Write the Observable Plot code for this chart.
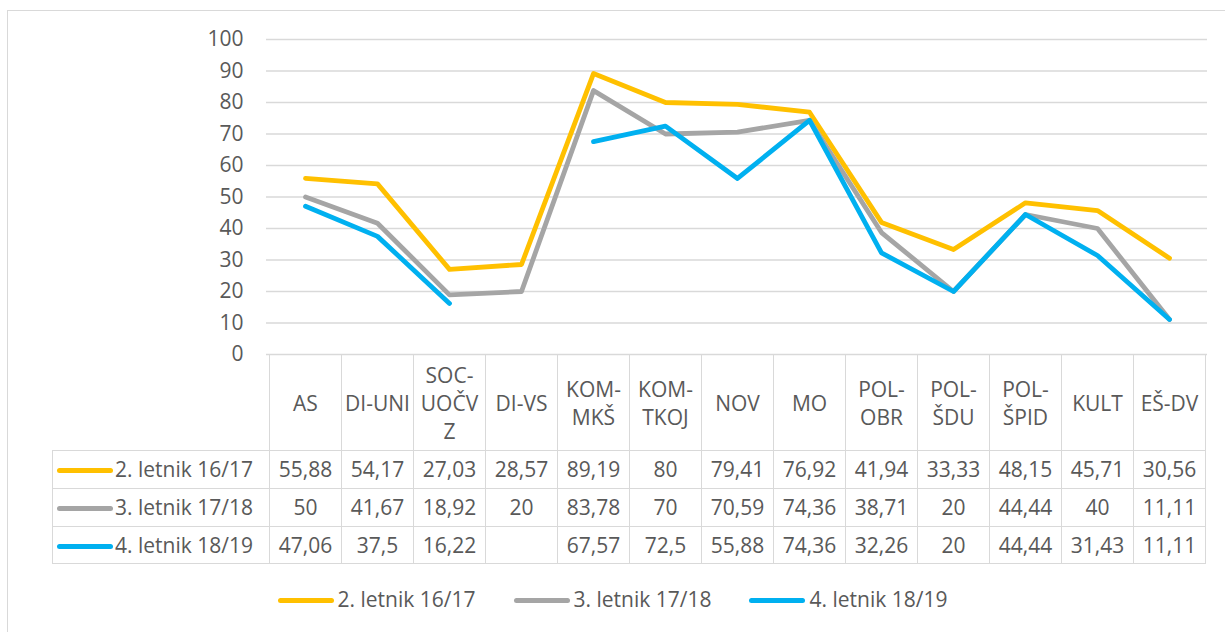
<!DOCTYPE html>
<html>
<head>
<meta charset="utf-8">
<script src="https://cdn.jsdelivr.net/npm/d3@7"></script>
<script src="https://cdn.jsdelivr.net/npm/@observablehq/plot@0.6"></script>
<style>
  body { margin: 0; background: #fff; font-family: "Open Sans", sans-serif; color: #595959; }
  #wrap { position: relative; width: 1225px; height: 632px; overflow: hidden; background: #fff; }
  #frame { position: absolute; left: 7px; top: 10px; width: 1240px; height: 700px; border: 1px solid #d9d9d9; box-sizing: border-box; }
  #chart { position: absolute; left: 0; top: 0; }
  #tbl { position: absolute; border-collapse: collapse; table-layout: fixed; font-size: 21px; color: #595959; }
  #tbl td { border: 1.5px solid #d9d9d9; text-align: center; vertical-align: middle; padding: 0; white-space: pre-line; line-height: 28px; }
  #tbl td.blank { border-top: none; border-left: none; }
  #tbl td.lab { text-align: left; white-space: nowrap; }
  .sw { display: inline-block; width: 56px; height: 5px; border-radius: 3px; vertical-align: middle; margin: 0 2px 0 4px; position: relative; top: -1px; }
  #legend { position: absolute; top: 585px; left: 0; width: 1225px; text-align: center; font-size: 21px; color: #595959; white-space: nowrap; }
  #legend span.item { display: inline-block; margin: 0 19px; }
  #legend .sw { margin: 0 4px 0 0; }
</style>
</head>
<body>
<div id="wrap">
  <div id="frame"></div>
  <div id="chart"></div>
  <table id="tbl"></table>
  <div id="legend"></div>
</div>
<script>
const categories = ["AS", "DI-UNI", "SOC-UOČVZ", "DI-VS", "KOM-MKŠ", "KOM-TKOJ", "NOV", "MO", "POL-OBR", "POL-ŠDU", "POL-ŠPID", "KULT", "EŠ-DV"];
const headerLabels = ["AS", "DI-UNI", "SOC-\nUOČV\nZ", "DI-VS", "KOM-\nMKŠ", "KOM-\nTKOJ", "NOV", "MO", "POL-\nOBR", "POL-\nŠDU", "POL-\nŠPID", "KULT", "EŠ-DV"];
const seriesNames = ["2. letnik 16/17", "3. letnik 17/18", "4. letnik 18/19"];
const seriesColors = ["#FFC000", "#A5A5A5", "#00B0F0"];
const s1 = [55.88, 54.17, 27.03, 28.57, 89.19, 80, 79.41, 76.92, 41.94, 33.33, 48.15, 45.71, 30.56];
const s2 = [50, 41.67, 18.92, 20, 83.78, 70, 70.59, 74.36, 38.71, 20, 44.44, 40, 11.11];
const s3 = [47.06, 37.5, 16.22, null, 67.57, 72.5, 55.88, 74.36, 32.26, 20, 44.44, 31.43, 11.11];
const yTicks = [0, 10, 20, 30, 40, 50, 60, 70, 80, 90, 100];

const seriesValues = [s1, s2, s3];
const rows = [];
seriesValues.forEach((vals, si) => {
  vals.forEach((v, i) => rows.push({series: seriesNames[si], cat: categories[i], value: v}));
});

const plot = Plot.plot({
  width: 1225,
  height: 360,
  marginLeft: 266,
  marginRight: 18,
  marginTop: 39,
  marginBottom: 6,
  style: {fontFamily: "Open Sans, sans-serif", fontSize: "21px", color: "#595959", background: "transparent", overflow: "visible"},
  x: {type: "band", domain: categories, padding: 0, axis: null},
  y: {domain: [0, 100], ticks: yTicks, tickSize: 0, tickPadding: 23, label: null, tickFormat: d => String(d)},
  color: {domain: seriesNames, range: seriesColors},
  marks: [
    Plot.ruleY(yTicks, {stroke: "#d9d9d9", strokeWidth: 1.5}),
    ...seriesNames.map(name => Plot.line(rows.filter(r => r.series === name), {
      x: "cat", y: "value", stroke: "series",
      strokeWidth: 4.8, strokeLinecap: "round", strokeLinejoin: "round"
    }))
  ]
});
document.getElementById("chart").appendChild(plot);

// Data table aligned with the plot's x scale
const xs = plot.scale("x");
const ys = plot.scale("y");
const bw = xs.bandwidth;
const tableLeft = 52;
const firstColW = xs.apply(categories[0]) - tableLeft;
const tbl = document.getElementById("tbl");
tbl.style.left = tableLeft + "px";
tbl.style.top = ys.apply(0) + "px";
tbl.style.width = (firstColW + bw * categories.length) + "px";

const colgroup = document.createElement("colgroup");
const c0 = document.createElement("col"); c0.style.width = firstColW + "px"; colgroup.appendChild(c0);
categories.forEach(() => { const c = document.createElement("col"); c.style.width = bw + "px"; colgroup.appendChild(c); });
tbl.appendChild(colgroup);

const hr = document.createElement("tr"); hr.style.height = "96px";
const blank = document.createElement("td"); blank.className = "blank"; hr.appendChild(blank);
headerLabels.forEach(h => { const td = document.createElement("td"); td.textContent = h; hr.appendChild(td); });
tbl.appendChild(hr);

seriesNames.forEach((name, si) => {
  const tr = document.createElement("tr"); tr.style.height = "37.8px";
  const lab = document.createElement("td"); lab.className = "lab";
  lab.innerHTML = `<span class="sw" style="background:${seriesColors[si]}"></span>${name}`;
  tr.appendChild(lab);
  seriesValues[si].forEach(v => {
    const td = document.createElement("td");
    td.textContent = v == null ? "" : String(v).replace(".", ",");
    tr.appendChild(td);
  });
  tbl.appendChild(tr);
});

// Bottom legend
const lg = document.getElementById("legend");
lg.innerHTML = seriesNames.map((n, i) => `<span class="item"><span class="sw" style="background:${seriesColors[i]}"></span>${n}</span>`).join("");
</script>
</body>
</html>
